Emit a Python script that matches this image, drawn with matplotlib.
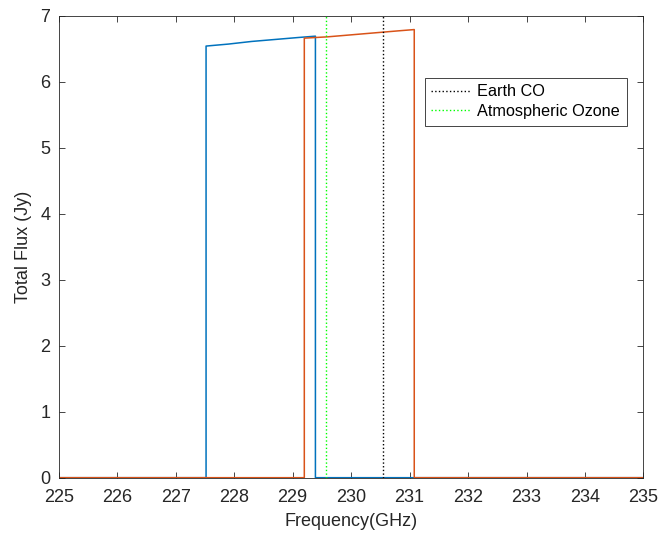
import matplotlib
matplotlib.use("Agg")
import matplotlib.pyplot as plt

plt.rcParams['font.family'] = ['Liberation Sans', 'DejaVu Sans']

# Spectral window 1 (blue)
freq1 = [225.0, 227.52, 227.52, 227.9, 228.3, 228.7, 229.1, 229.39, 229.39, 235.0]
flux1 = [0.0, 0.0, 6.54, 6.57, 6.61, 6.64, 6.67, 6.69, 0.0, 0.0]
# Spectral window 2 (orange)
freq2 = [225.0, 229.20, 229.20, 229.6, 230.0, 230.4, 230.8, 231.08, 231.08, 235.0]
flux2 = [0.0, 0.0, 6.66, 6.68, 6.71, 6.74, 6.77, 6.79, 0.0, 0.0]

earth_co = 230.538
ozone = 229.575

fig = plt.figure(figsize=(6.61, 5.38), dpi=100)
ax = fig.add_axes([0.0888, 0.1121, 0.8847, 0.8587])

ax.plot(freq1, flux1, color='#0072BD', lw=1.1)
ax.plot(freq2, flux2, color='#D95319', lw=1.1)
ax.axvline(earth_co, color='black', ls=':', lw=1.0, label='Earth CO')
ax.axvline(ozone, color='#00FF00', ls=':', lw=1.0, label='Atmospheric Ozone')

ax.set_xlim(225, 235)
ax.set_ylim(0, 7)
ax.set_xticks(range(225, 236))
ax.set_yticks(range(0, 8))
ax.tick_params(direction='in', labelsize=13, colors='#262626', length=4,
               width=0.6, top=True, right=True)
ax.tick_params(axis='x', pad=8)
ax.tick_params(axis='y', pad=6)
for s in ax.spines.values():
    s.set_color('#262626')
    s.set_linewidth(0.6)
ax.set_xlabel('Frequency(GHz)', fontsize=13, color='#262626', labelpad=5)
ax.set_ylabel('Total Flux (Jy)', fontsize=13, color='#262626', labelpad=6)

leg = ax.legend(loc='upper right', bbox_to_anchor=(0.9713, 0.8658), fontsize=11.7,
                fancybox=False, framealpha=1, edgecolor='#262626', borderaxespad=0,
                handlelength=2.4, handletextpad=0.45, borderpad=0.4, labelspacing=0.3)
leg.get_frame().set_linewidth(0.6)

fig.savefig('out.png', dpi=100)
